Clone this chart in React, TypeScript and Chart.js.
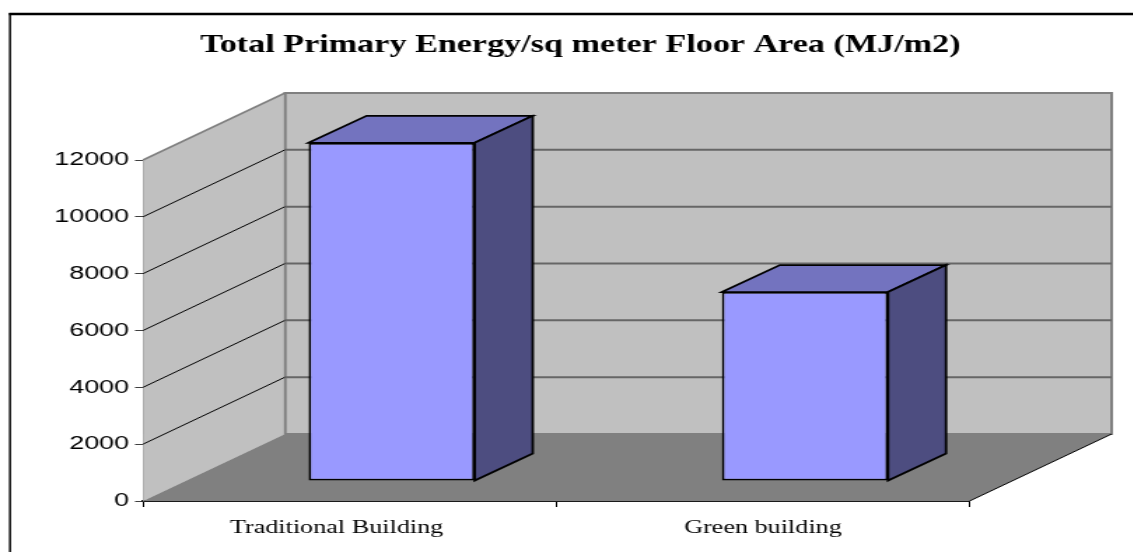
import React, { useEffect, useRef } from "react";
import { Chart, registerables } from "chart.js";

Chart.register(...registerables);

const categories = ["Traditional Building", "Green building"];
const energyPerArea = [11900, 6650];
const yTicksMax = 12000;
const yTickStep = 2000;
const chartTitle = "Total Primary Energy/sq meter Floor Area (MJ/m2)";

// The canvas is laid out narrow and widened with a CSS transform.
const STRETCH = 1.4;
const W = 1133 / STRETCH;
const H = 552;

const PAD_LEFT = 20;
const PLOT_LEFT = 143 / STRETCH;
const PLOT_RIGHT = 970 / STRETCH;
const PLOT_TOP = 160;
const PLOT_BOTTOM = 501;
const DEPTH_X = 142 / STRETCH;
const DEPTH_Y = -67;
const BAR_SHIFT_X = 42 / STRETCH;
const BAR_SHIFT_Y = -20;
const BAR_DEPTH_X = 58 / STRETCH;
const BAR_DEPTH_Y = -27;
const TITLE_SIZE = 24.4;
const TITLE_LINE = 1.2;
const TITLE_PAD_TOP = 31;

function poly(ctx: CanvasRenderingContext2D, pts: number[][], fill?: string, stroke?: string, lw = 1) {
  ctx.beginPath();
  pts.forEach(([x, y], i) => (i ? ctx.lineTo(x, y) : ctx.moveTo(x, y)));
  ctx.closePath();
  if (fill) {
    ctx.fillStyle = fill;
    ctx.fill();
  }
  if (stroke) {
    ctx.strokeStyle = stroke;
    ctx.lineWidth = lw;
    ctx.stroke();
  }
}

function line(ctx: CanvasRenderingContext2D, x1: number, y1: number, x2: number, y2: number, color: string, lw: number) {
  ctx.beginPath();
  ctx.moveTo(x1, y1);
  ctx.lineTo(x2, y2);
  ctx.strokeStyle = color;
  ctx.lineWidth = lw;
  ctx.stroke();
}

// Frame, walls, floor and the extruded faces of each bar.
const box3d = {
  id: "box3d",
  beforeDraw(chart: any) {
    const { ctx } = chart;
    ctx.save();
    ctx.fillStyle = "#ffffff";
    ctx.fillRect(0, 0, W, H);
    line(ctx, 9 / STRETCH, 14, W, 14, "#000000", 2.4);
    line(ctx, 10 / STRETCH, 13, 10 / STRETCH, H, "#000000", 1.45);
    ctx.restore();
  },
  beforeDatasetsDraw(chart: any) {
    const { ctx, scales } = chart;
    const { x: xs, y: ys } = scales;
    const l = xs.left;
    const r = xs.right;
    const t = ys.top;
    const b = ys.bottom;
    ctx.save();
    ctx.lineJoin = "miter";
    poly(ctx, [[l + DEPTH_X, t + DEPTH_Y], [r + DEPTH_X, t + DEPTH_Y], [r + DEPTH_X, b + DEPTH_Y], [l + DEPTH_X, b + DEPTH_Y]], "#c0c0c0", "#808080", 2);
    poly(ctx, [[l, t], [l + DEPTH_X, t + DEPTH_Y], [l + DEPTH_X, b + DEPTH_Y], [l, b]], "#c0c0c0");
    line(ctx, l, t, l + DEPTH_X, t + DEPTH_Y, "#808080", 1.5);
    line(ctx, l + DEPTH_X, t + DEPTH_Y, l + DEPTH_X, b + DEPTH_Y, "#808080", 1.5);
    poly(ctx, [[l, b], [l + DEPTH_X, b + DEPTH_Y], [r + DEPTH_X, b + DEPTH_Y], [r, b]], "#808080");
    for (const tick of ys.ticks) {
      if (tick.value === 0 || tick.value === yTicksMax) continue;
      const y = ys.getPixelForValue(tick.value);
      line(ctx, l, y, l + DEPTH_X, y + DEPTH_Y, "#000000", 1);
      line(ctx, l + DEPTH_X, y + DEPTH_Y, r + DEPTH_X, y + DEPTH_Y, "#666666", 2);
    }
    line(ctx, r, b, r + DEPTH_X, b + DEPTH_Y, "#000000", 1);

    for (const bar of chart.getDatasetMeta(0).data) {
      const half = bar.width / 2;
      const fl = bar.x - half + BAR_SHIFT_X;
      const fr = bar.x + half + BAR_SHIFT_X;
      const ft = bar.y + BAR_SHIFT_Y;
      const fb = bar.base + BAR_SHIFT_Y;
      poly(ctx, [[fl, ft], [fl + BAR_DEPTH_X, ft + BAR_DEPTH_Y], [fr + BAR_DEPTH_X, ft + BAR_DEPTH_Y], [fr, ft]], "#7373bf", "#000000", 1.8);
      poly(ctx, [[fr, ft], [fr + BAR_DEPTH_X, ft + BAR_DEPTH_Y], [fr + BAR_DEPTH_X, fb + BAR_DEPTH_Y], [fr, fb]], "#4d4d80", "#000000", 1.8);
    }
    ctx.restore();
    // Front faces sit partway back on the floor.
    ctx.save();
    ctx.translate(BAR_SHIFT_X, BAR_SHIFT_Y);
  },
  afterDatasetsDraw(chart: any) {
    chart.ctx.restore();
  },
};

export default function App() {
  const ref = useRef<HTMLCanvasElement>(null);

  useEffect(() => {
    document.body.style.margin = "0";
    document.body.style.overflow = "hidden";
    const chart = new Chart(ref.current!, {
      type: "bar",
      data: {
        labels: categories,
        datasets: [
          {
            data: energyPerArea,
            yAxisID: "y",
            backgroundColor: "#9999ff",
            borderColor: "#000000",
            borderWidth: 1.8,
            borderSkipped: false,
            categoryPercentage: 1,
            barPercentage: 0.402,
            clip: false,
          },
        ],
      },
      options: {
        responsive: false,
        animation: false,
        devicePixelRatio: 1,
        layout: { padding: { left: PAD_LEFT, right: 0, top: 0, bottom: 0 } },
        plugins: {
          legend: { display: false },
          tooltip: { enabled: false },
          title: {
            display: true,
            text: chartTitle,
            color: "#000000",
            font: { family: "'Liberation Serif'", size: TITLE_SIZE, weight: "bold", lineHeight: TITLE_LINE },
            padding: { top: TITLE_PAD_TOP, bottom: PLOT_TOP - TITLE_PAD_TOP - TITLE_SIZE * TITLE_LINE },
          },
        },
        scales: {
          x: {
            afterFit: (s: any) => {
              s.height = H - PLOT_BOTTOM;
            },
            grid: { drawOnChartArea: false, drawTicks: true, tickLength: 6, color: "#000000", tickColor: "#000000" },
            border: { display: true, color: "#1a1a1a", width: 2 },
            ticks: {
              color: "#000000",
              padding: 10,
              maxRotation: 0,
              font: { family: "'Liberation Serif'", size: 18.7 },
              // Trailing blanks nudge the first centred label left.
              callback: (_v: any, i: number) => (i === 0 ? categories[i] + "    " : categories[i]),
            },
          },
          y: {
            min: 0,
            max: yTicksMax,
            afterFit: (s: any) => {
              s.width = PLOT_LEFT - PAD_LEFT;
            },
            grid: { drawOnChartArea: false, drawTicks: true, tickLength: 5.7, color: "#404040", tickColor: "#404040" },
            border: { display: true, color: "#404040", width: 1 },
            ticks: {
              stepSize: yTickStep,
              color: "#000000",
              padding: 4.3,
              font: { family: "'Liberation Sans'", size: 19.2 },
              format: { useGrouping: false },
            },
          },
          // Empty axis that keeps the plot clear of the right-hand margin.
          spacer: {
            type: "linear",
            position: "right",
            afterFit: (s: any) => {
              s.width = W - PLOT_RIGHT;
            },
            grid: { display: false, drawTicks: false },
            border: { display: false },
            ticks: { display: false },
          },
        },
      },
      plugins: [box3d],
    } as any);
    return () => chart.destroy();
  }, []);

  return (
    <canvas
      ref={ref}
      width={W}
      height={H}
      style={{
        position: "absolute",
        left: 0,
        top: 0,
        transform: `scaleX(${STRETCH})`,
        transformOrigin: "0 0",
      }}
    />
  );
}
